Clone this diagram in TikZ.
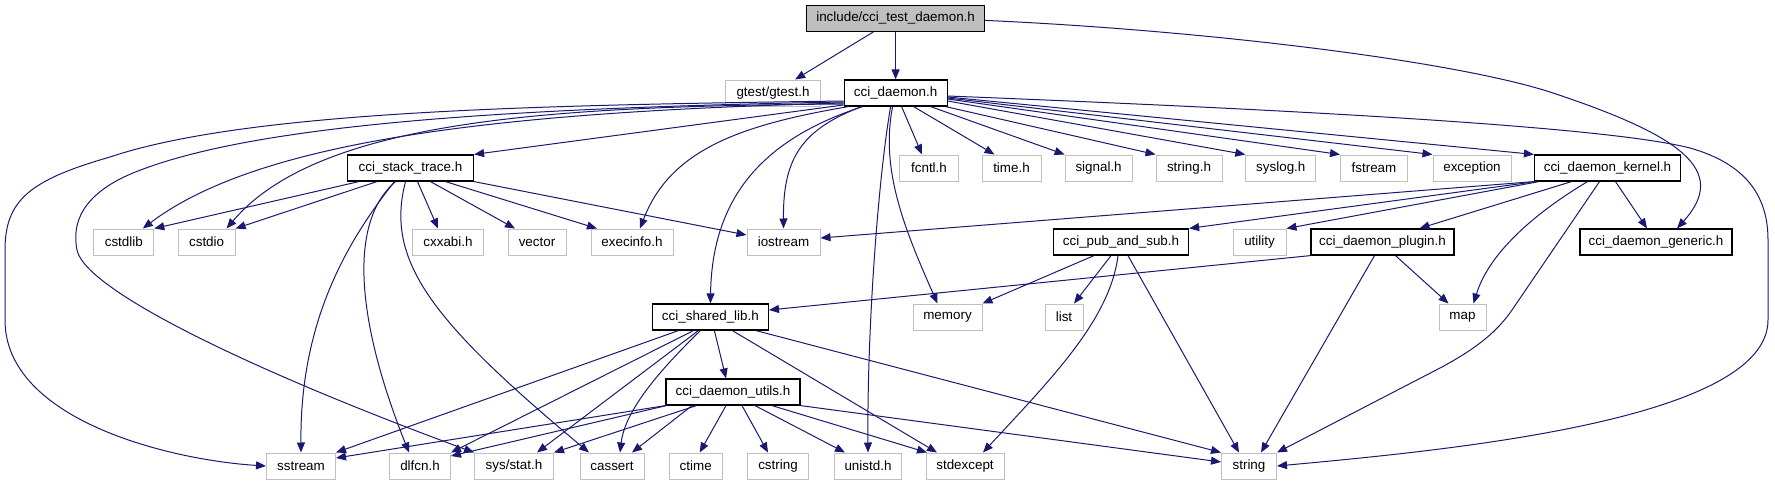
\documentclass[tikz,border=0pt]{standalone}
\usepackage{fontspec}
\setmainfont{Liberation Sans}
\usetikzlibrary{arrows.meta,calc}
\definecolor{edgeblue}{HTML}{191970}
\definecolor{boxgray}{HTML}{BFBFBF}
\newcommand\ndfont{\fontsize{13.4pt}{15pt}\selectfont}
\begin{document}
\begin{tikzpicture}[x=1pt,y=-1pt,
  base/.style={draw, minimum height=26pt, inner sep=0pt, font=\ndfont, line width=1pt},
  blk/.style={base, draw=black, line width=1.2pt},
  gry/.style={base, draw=boxgray},
  rootbox/.style={base, draw=black, line width=1.2pt, fill=boxgray},
  edge/.style={draw=edgeblue, line width=1pt, -{Triangle[length=10pt,width=8pt]}}]
\useasboundingbox (0,0) rectangle (1775,485);
% nodes
\node[rootbox, minimum width=178pt] (root) at (895.6,18.4) {include/cci\_test\_daemon.h};
\node[gry, minimum width=95pt] (gtest) at (773,93) {gtest/gtest.h};
\node[blk, minimum width=103pt] (daemon) at (895.6,93) {cci\_daemon.h};
\node[blk, minimum width=126pt] (stack) at (410.5,168) {cci\_stack\_trace.h};
\node[gry, minimum width=59pt] (fcntl) at (929,168) {fcntl.h};
\node[gry, minimum width=59pt] (time) at (1011.5,168) {time.h};
\node[gry, minimum width=67pt] (signal) at (1098.6,168) {signal.h};
\node[gry, minimum width=66pt] (stringh) at (1189,168) {string.h};
\node[gry, minimum width=70pt] (syslog) at (1280.8,168) {syslog.h};
\node[gry, minimum width=67pt] (fstream) at (1374,168) {fstream};
\node[gry, minimum width=78pt] (exception) at (1472,168) {exception};
\node[blk, minimum width=146pt] (kernel) at (1607.5,168) {cci\_daemon\_kernel.h};
\node[gry, minimum width=60pt] (cstdlib) at (123.8,242) {cstdlib};
\node[gry, minimum width=57pt] (cstdio) at (206.6,242) {cstdio};
\node[gry, minimum width=71pt] (cxxabi) at (448,242) {cxxabi.h};
\node[gry, minimum width=58pt] (vector) at (537,242) {vector};
\node[gry, minimum width=82pt] (execinfo) at (632,242) {execinfo.h};
\node[gry, minimum width=73pt] (iostream) at (783.5,242) {iostream};
\node[blk, minimum width=135pt] (pubsub) at (1121,242) {cci\_pub\_and\_sub.h};
\node[gry, minimum width=53pt] (utility) at (1259.5,242) {utility};
\node[blk, minimum width=143pt] (plugin) at (1382.5,242) {cci\_daemon\_plugin.h};
\node[blk, minimum width=152pt] (generic) at (1656,242) {cci\_daemon\_generic.h};
\node[blk, minimum width=116pt] (shared) at (710.4,317) {cci\_shared\_lib.h};
\node[gry, minimum width=69pt] (memory) at (947.5,317) {memory};
\node[gry, minimum width=38pt] (list) at (1064,317) {list};
\node[gry, minimum width=47pt] (map) at (1462.5,317) {map};
\node[blk, minimum width=134pt] (utils) at (733,392) {cci\_daemon\_utils.h};
\node[gry, minimum width=69pt] (sstream) at (301,466) {sstream};
\node[gry, minimum width=61pt] (dlfcn) at (420,466) {dlfcn.h};
\node[gry, minimum width=79pt] (sysstat) at (514,466) {sys/stat.h};
\node[gry, minimum width=64pt] (cassert) at (612,466) {cassert};
\node[gry, minimum width=53pt] (ctime) at (695.7,466) {ctime};
\node[gry, minimum width=61pt] (cstring) at (778,466) {cstring};
\node[gry, minimum width=67pt] (unistd) at (868,466) {unistd.h};
\node[gry, minimum width=78pt] (stdexcept) at (965,466) {stdexcept};
\node[gry, minimum width=55pt] (string) at (1249,466) {string};
% root edges
\draw[edge] (root) -- (gtest);
\draw[edge] (root) -- (daemon);
\draw[edge] ($(root.east)+(0,2)$) .. controls (1200,30) and (1450,60) .. (1550,92) .. controls (1680,135) and (1730,170) .. ($(generic.north)+(21,0)$);
% cci_daemon.h edges
\draw[edge] ($(daemon.west)+(0,12)$) -- (stack.north east);
\draw[edge] ($(daemon.west)+(0,10)$) .. controls (500,112) and (260,140) .. ($(cstdlib.north)+(19,0)$);
\draw[edge] ($(daemon.west)+(0,11)$) .. controls (560,106) and (320,118) .. ($(cstdio.north)+(20,0)$);
\draw[edge] ($(daemon.west)+(0,8)$) .. controls (550,105) and (250,110) .. (110,157) .. controls (30,180) and (5,200) .. (5,250) -- (5,320) .. controls (5,420) and (170,460) .. (sstream.west);
\draw[edge] ($(daemon.west)+(0,9)$) .. controls (500,108) and (250,125) .. (133,173) .. controls (80,195) and (72,225) .. (77,250) .. controls (85,290) and (250,370) .. (sysstat.north west);
\draw[edge] ($(daemon.south west)+(5,0)$) .. controls (740,125) and (670,150) .. ($(execinfo.north)+(8,0)$);
\draw[edge] ($(daemon.south)+(-34,0)$) .. controls (800,130) and (783,160) .. (iostream.north);
\draw[edge] ($(daemon.south)+(-33,0)$) .. controls (760,140) and (712,200) .. (shared.north);
\draw[edge] ($(daemon.south)+(-5,0)$) .. controls (878,180) and (867,330) .. (unistd.north);
\draw[edge] ($(daemon.south)+(-3,0)$) .. controls (880,170) and (905,230) .. ($(memory.north)+(-10,0)$);
\draw[edge] ($(daemon.south)+(6,0)$) -- ($(fcntl.north)+(-7,0)$);
\draw[edge] ($(daemon.south)+(18,0)$) -- ($(time.north)+(-17,0)$);
\draw[edge] ($(daemon.south)+(35,0)$) -- (signal.north west);
\draw[edge] ($(daemon.south east)+(-2,0)$) -- (stringh.north west);
\draw[edge] ($(daemon.east)+(0,8)$) -- (syslog.north west);
\draw[edge] ($(daemon.east)+(0,6)$) -- (fstream.north west);
\draw[edge] ($(daemon.east)+(0,5)$) -- (exception.north west);
\draw[edge] ($(daemon.east)+(0,4)$) -- (kernel.north west);
\draw[edge] ($(daemon.east)+(0,3)$) .. controls (1250,108) and (1600,125) .. (1690,148) .. controls (1750,165) and (1768,200) .. (1768,240) -- (1768,320) .. controls (1768,420) and (1450,450) .. (string.east);
% cci_stack_trace.h edges
\draw[edge] ($(stack.south west)+(12,0)$) -- (cstdlib.north east);
\draw[edge] ($(stack.south west)+(30,0)$) -- (cstdio.north east);
\draw[edge] ($(stack.south)+(-16,0)$) .. controls (340,250) and (300,330) .. (sstream.north);
\draw[edge] ($(stack.south)+(-15,0)$) .. controls (345,225) and (360,330) .. ($(dlfcn.north)+(-11,0)$);
\draw[edge] ($(stack.south)+(-5,0)$) .. controls (385,260) and (430,320) .. ($(cassert.north)+(-23,0)$);
\draw[edge] ($(stack.south)+(7,0)$) -- ($(cxxabi.north)+(-10,0)$);
\draw[edge] ($(stack.south)+(20,0)$) -- ($(vector.north)+(-22,0)$);
\draw[edge] ($(stack.south)+(35,0)$) -- ($(execinfo.north)+(-35,0)$);
\draw[edge] (stack.south east) -- ($(iostream.west)+(0,-7)$);
% cci_daemon_kernel.h edges
\draw[edge] (kernel.south west) -- ($(iostream.east)+(0,-4)$);
\draw[edge] ($(kernel.south west)+(2,0)$) -- (pubsub.north east);
\draw[edge] ($(kernel.south west)+(5,0)$) -- (utility.north east);
\draw[edge] ($(kernel.south)+(-36,0)$) -- ($(plugin.north)+(37,0)$);
\draw[edge] ($(kernel.south)+(-20,0)$) .. controls (1540,210) and (1490,250) .. ($(map.north)+(11,0)$);
\draw[edge] ($(kernel.south)+(-8,0)$) -- (1512,310) .. controls (1495,335) and (1470,352) .. (1440,368) -- (string.north east);
\draw[edge] ($(kernel.south)+(8,0)$) -- ($(generic.north)+(-9,0)$);
% cci_pub_and_sub.h edges
\draw[edge] ($(pubsub.south)+(-27,0)$) -- (memory.north east);
\draw[edge] ($(pubsub.south)+(-10,0)$) -- ($(list.north)+(10,0)$);
\draw[edge] ($(pubsub.south)+(-3,0)$) .. controls (1110,320) and (1050,380) .. ($(stdexcept.north)+(18,0)$);
\draw[edge] ($(pubsub.south)+(7,0)$) -- ($(string.north)+(-10,0)$);
% cci_daemon_plugin.h edges
\draw[edge] (plugin.south west) -- ($(shared.east)+(0,-7)$);
\draw[edge] ($(plugin.south)+(13,0)$) -- ($(map.north)+(-14,0)$);
\draw[edge] ($(plugin.south)+(-8,0)$) -- ($(string.north)+(12,0)$);
% cci_shared_lib.h edges
\draw[edge] ($(shared.south)+(-32,0)$) -- (sstream.north east);
\draw[edge] ($(shared.south)+(-17,0)$) -- (dlfcn.north east);
\draw[edge] ($(shared.south)+(-12,0)$) -- ($(sysstat.north)+(23,0)$);
\draw[edge] ($(shared.south)+(-10,0)$) .. controls (660,370) and (625,410) .. ($(cassert.north)+(8,0)$);
\draw[edge] ($(shared.south)+(4,0)$) -- ($(utils.north)+(-7,0)$);
\draw[edge] ($(shared.south)+(22,0)$) -- ($(stdexcept.north)+(-28,0)$);
\draw[edge] ($(shared.south east)+(-13,0)$) -- (string.north west);
% cci_daemon_utils.h edges
\draw[edge] (utils.south west) -- ($(sstream.east)+(0,-8)$);
\draw[edge] ($(utils.south west)+(1,0)$) -- ($(dlfcn.east)+(0,-10)$);
\draw[edge] ($(utils.south west)+(31,0)$) -- (sysstat.north east);
\draw[edge] ($(utils.south)+(-41,0)$) -- ($(cassert.north)+(20,0)$);
\draw[edge] ($(utils.south)+(-7,0)$) -- ($(ctime.north)+(4,0)$);
\draw[edge] ($(utils.south)+(9,0)$) -- ($(cstring.north)+(-10,0)$);
\draw[edge] ($(utils.south)+(22,0)$) -- ($(unistd.north)+(-23,0)$);
\draw[edge] ($(utils.south)+(39,0)$) -- ($(stdexcept.north)+(-38,0)$);
\draw[edge] (utils.south east) -- ($(string.west)+(0,-4)$);
\end{tikzpicture}
\end{document}
